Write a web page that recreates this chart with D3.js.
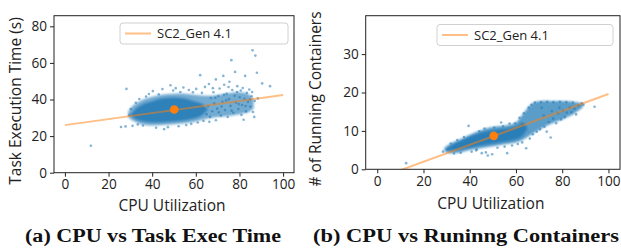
<!DOCTYPE html>
<html>
<head>
<meta charset="utf-8">
<script src="https://cdn.jsdelivr.net/npm/d3@7"></script>
<style>
  body { margin: 0; background: #fff; }
  svg { display: block; }
  .tick text { font-family: "Open Sans", sans-serif; font-size: 13.6px; fill: #222; }
  .lab { font-family: "Open Sans", sans-serif; font-size: 15.5px; fill: #222; }
  .cap { font-family: "Liberation Serif", serif; font-weight: bold; font-size: 18.5px; fill: #111; }
  .leg { font-family: "Open Sans", sans-serif; font-size: 13px; fill: #222; }
</style>
</head>
<body>
<div id="vis"></div>
<script>
// tick labels
const cpuTicks = [0, 20, 40, 60, 80, 100];
const timeTicks = [0, 20, 40, 60, 80];
const contTicks = [0, 10, 20, 30];
const legendLabel = "SC2_Gen 4.1";

// (a) CPU vs task exec time : dense core / halo outlines
const timeCoreCpu = [30, 31, 33, 36, 40, 44, 48, 52, 55, 58, 61, 63, 65.5];
const timeCoreLo  = [31.8, 30.5, 29, 28, 27.5, 27.5, 27.8, 28.2, 28.6, 29.3, 30.3, 31.5, 34.5];
const timeCoreHi  = [31.8, 33, 35.5, 37.5, 39, 40.5, 41, 41, 40.5, 39.5, 38.5, 37.5, 34.5];
const timeHaloCpu = [29, 31, 35, 40, 45, 50, 55, 60, 65, 70, 75, 80, 84, 86.5];
const timeHaloLo  = [30.5, 28.5, 26.5, 25.8, 26, 26.5, 27, 28, 29.5, 30.5, 31, 32, 33, 35];
const timeHaloHi  = [33.5, 36.5, 39.5, 41.5, 42.8, 43.2, 43.2, 42.5, 42, 42.5, 43.5, 44, 43, 40];
const timePoints = [[11.9,14.7],[25.7,25.0],[27.8,25.3],[28.2,45.8],[29.5,31.5],[30.2,34.8],[31.0,25.6],[32.5,38.2],
  [33.4,26.4],[34.1,40.3],[35.8,25.8],[37.2,41.6],[38.5,43.0],[40.3,44.6],[41.8,24.6],[43.0,42.8],[44.7,45.7],
  [45.5,23.8],[47.2,24.9],[48.4,47.8],[49.6,44.9],[50.8,46.2],[52.1,25.4],[52.9,44.1],[54.3,46.6],[55.6,26.0],
  [56.8,45.2],[57.9,26.7],[58.7,44.0],[60.2,45.8],[60.9,27.4],[62.0,53.3],[62.8,43.6],[63.5,28.3],[64.2,46.9],
  [64.9,32.0],[65.6,36.4],[66.2,27.8],[66.0,48.5],[66.9,40.8],[67.5,33.6],[68.1,44.0],[68.4,37.9],[69.2,51.0],
  [69.2,28.7],[69.8,35.0],[70.3,41.9],[70.9,46.0],[71.5,31.2],[72.2,38.8],[72.6,52.9],[73.0,48.1],[73.4,34.2],
  [74.1,43.1],[74.6,30.4],[75.2,40.2],[75.4,49.7],[75.9,36.5],[76.3,61.5],[76.7,45.2],[77.2,32.8],[77.8,42.0],
  [78.0,55.1],[78.4,38.3],[79.0,47.3],[79.5,34.8],[80.1,41.2],[80.6,44.9],[81.2,37.0],[81.9,28.9],[82.3,40.4],
  [82.6,52.9],[83.0,33.5],[83.4,43.6],[83.9,38.7],[84.5,45.5],[85.0,36.1],[85.5,41.8],[86.0,66.9],[86.2,33.2],
  [86.8,30.5],[87.3,64.0],[87.0,39.2],[88.0,54.6],[88.4,40.6],[90.4,48.8],[94.0,47.3],
  [66.5,30.5],[68.9,41.0],[71.8,36.2],[73.9,39.5],[76.4,33.9],[78.9,44.1],[80.9,31.6],[82.8,36.4],[84.8,40.0],
  [70.5,33.0],[75.0,46.8],[79.7,37.5],[67.8,46.2],[72.9,42.6],[81.5,46.3],[85.8,44.1]];
const timeFit = [26.0, 42.5];   // fitted value at cpu 0 and cpu 100
const timeMean = [50.1, 34.5];

// (b) CPU vs running containers
const contCoreCpu = [30, 31, 34, 38, 42, 46, 50, 54, 58, 61, 63, 65];
const contCoreLo  = [5.3, 5.0, 5.0, 5.4, 5.9, 6.3, 6.7, 7.1, 7.5, 8.0, 8.8, 10.6];
const contCoreHi  = [5.3, 5.8, 6.9, 8.0, 9.0, 9.8, 10.2, 10.5, 10.8, 11.4, 12.2, 10.6];
const contHaloCpu = [29, 32, 36, 40, 44, 48, 52, 56, 60, 62, 64, 66, 68, 71, 75, 80, 85, 89];
const contHaloLo  = [4.6, 4.2, 4.4, 5.0, 5.4, 5.8, 6.2, 6.6, 7.0, 7.4, 8.0, 8.8, 9.6, 10.6, 11.8, 13.0, 14.4, 16.2];
const contHaloHi  = [5.6, 6.8, 7.8, 9.0, 10.0, 10.8, 11.2, 11.5, 12.2, 13.6, 15.2, 16.6, 17.5, 17.8, 17.8, 17.8, 17.6, 17.2];
const contPoints = [[12.5,1.6],[28.4,4.6],[30.5,5.2],[31.8,6.7],[33.2,4.1],[34.6,7.6],[36.1,4.3],[37.5,8.4],
  [39.5,11.3],[40.8,4.6],[42.8,4.9],[43.0,5.2],[44.1,9.9],[45.2,4.2],[46.4,10.6],[47.0,4.4],[47.8,3.6],[49.7,3.9],
  [50.6,10.9],[52.0,5.6],[53.6,12.2],[54.4,11.2],[55.1,5.9],[56.2,4.2],[57.2,11.9],[58.3,6.2],[59.6,12.0],
  [60.8,6.6],[61.5,13.4],[62.7,7.0],[63.4,14.6],[64.4,5.5],[65.5,16.1],[66.7,16.8],[66.0,8.0],[67.3,9.1],
  [68.2,17.4],[69.0,9.8],[70.4,10.4],[71.1,16.0],[72.3,11.1],[73.3,9.8],[74.2,12.3],[75.0,8.3],[76.1,13.2],
  [77.4,12.0],[78.2,14.6],[79.5,13.0],[80.3,15.3],[81.1,13.6],[82.0,14.8],[83.2,16.1],[84.0,14.9],[85.3,15.8],
  [86.0,14.3],[87.1,16.6],[88.5,17.2],[89.2,16.8],[94.0,16.3],
  [70.8,17.5],[73.5,17.6],[76.2,17.5],[79.0,17.6],[81.8,17.5],[84.6,17.4],[72.0,14.0],[75.5,15.2],[78.8,16.0]];
const contFit = [-2.44, 19.6];
const contMean = [50.4, 8.7];

const W = 621, H = 250;
const blue = "#1f77b4", orange = "#ff7f0e";

const svg = d3.select("#vis").append("svg").attr("width", W).attr("height", H);

// soft edge for the dense part of the clouds
svg.append("defs").append("filter").attr("id", "soft")
  .attr("x", "-10%").attr("y", "-30%").attr("width", "120%").attr("height", "160%")
  .append("feGaussianBlur").attr("stdDeviation", 1.1);

function drawPanel(p) {
  const x = d3.scaleLinear().domain([-5, 105]).range([p.left, p.right]);
  const y = d3.scaleLinear().domain(p.yDomain).range([p.bottom, p.top]);
  const g = svg.append("g");

  const clipId = "clip-" + p.id;
  g.append("clipPath").attr("id", clipId)
    .append("rect").attr("x", p.left).attr("y", p.top)
    .attr("width", p.right - p.left).attr("height", p.bottom - p.top);

  const plot = g.append("g").attr("clip-path", `url(#${clipId})`);

  const band = (cpu, lo, hi) => cpu.map((c, i) => ({ c: c, lo: lo[i], hi: hi[i] }));
  const area = d3.area().curve(d3.curveCatmullRom)
    .x(d => x(d.c)).y0(d => y(d.lo)).y1(d => y(d.hi));

  const cloud = plot.append("g").attr("filter", "url(#soft)");
  cloud.append("path").datum(band(p.haloCpu, p.haloLo, p.haloHi))
    .attr("d", area).attr("fill", blue).attr("fill-opacity", p.haloOpacity);
  cloud.append("path").datum(band(p.coreCpu, p.coreLo, p.coreHi))
    .attr("d", area).attr("fill", blue).attr("fill-opacity", 0.8);

  plot.selectAll(".pt").data(p.points).enter().append("circle")
    .attr("class", "pt")
    .attr("cx", d => x(d[0])).attr("cy", d => y(d[1]))
    .attr("r", 1.3).attr("fill", blue).attr("fill-opacity", 0.55);

  // regression line, half transparent on top of the points
  plot.append("line")
    .attr("x1", x(0)).attr("y1", y(p.fit[0]))
    .attr("x2", x(100)).attr("y2", y(p.fit[1]))
    .attr("stroke", orange).attr("stroke-opacity", 0.5).attr("stroke-width", 2);

  plot.append("circle")
    .attr("cx", x(p.mean[0])).attr("cy", y(p.mean[1]))
    .attr("r", 4.3).attr("fill", orange);

  // axes
  g.append("g").attr("transform", `translate(0,${p.bottom})`)
    .call(d3.axisBottom(x).tickValues(cpuTicks).tickSize(4).tickPadding(3));
  g.append("g").attr("transform", `translate(${p.left},0)`)
    .call(d3.axisLeft(y).tickValues(p.yTicks).tickSize(4).tickPadding(3));
  g.selectAll(".domain").remove();
  g.selectAll(".tick line").attr("stroke", "#222");

  g.append("rect")
    .attr("x", p.left).attr("y", p.top)
    .attr("width", p.right - p.left).attr("height", p.bottom - p.top)
    .attr("fill", "none").attr("stroke", "#222").attr("stroke-width", 1);

  // legend
  const lg = g.append("g").attr("transform", `translate(${p.legX},${p.legY})`);
  lg.append("rect").attr("width", p.legW).attr("height", 21).attr("rx", 3)
    .attr("fill", "#fff").attr("stroke", "#d0d0d0");
  lg.append("line").attr("x1", 5).attr("x2", 31).attr("y1", 10.5).attr("y2", 10.5)
    .attr("stroke", orange).attr("stroke-opacity", 0.5).attr("stroke-width", 2);
  lg.append("text").attr("class", "leg").attr("x", 37).attr("y", 15).text(legendLabel);

  // labels
  g.append("text").attr("class", "lab").attr("text-anchor", "middle")
    .attr("x", (x(0) + x(100)) / 2 - 2).attr("y", p.xLabY).text("CPU Utilization");
  g.append("text").attr("class", "lab").attr("text-anchor", "middle")
    .attr("transform", `translate(${p.yLabX},${p.yLabY}) rotate(-90)`).text(p.yLabel);
  g.append("text").attr("class", "cap").attr("text-anchor", "middle")
    .attr("x", p.capX).attr("y", 242)
    .attr("textLength", p.capW).attr("lengthAdjust", "spacingAndGlyphs")
    .text(p.caption);
}

drawPanel({
  id: "a", left: 54, right: 294, top: 15.7, bottom: 172.7, yDomain: [0, 85.8], yTicks: timeTicks,
  coreCpu: timeCoreCpu, coreLo: timeCoreLo, coreHi: timeCoreHi,
  haloCpu: timeHaloCpu, haloLo: timeHaloLo, haloHi: timeHaloHi, haloOpacity: 0.62,
  points: timePoints, fit: timeFit, mean: timeMean,
  legX: 120, legY: 23, legW: 168,
  xLabY: 211, yLabX: 20.5, yLabY: 101, yLabel: "Task Execution Time (s)",
  capX: 153, capW: 256, caption: "(a) CPU vs Task Exec Time"
});

drawPanel({
  id: "b", left: 365.7, right: 620, top: 15.7, bottom: 169.3, yDomain: [0, 40], yTicks: contTicks,
  coreCpu: contCoreCpu, coreLo: contCoreLo, coreHi: contCoreHi,
  haloCpu: contHaloCpu, haloLo: contHaloLo, haloHi: contHaloHi, haloOpacity: 0.72,
  points: contPoints, fit: contFit, mean: contMean,
  legX: 437, legY: 24.5, legW: 176,
  xLabY: 209, yLabX: 320.5, yLabY: 99, yLabel: "# of Running Containers",
  capX: 466, capW: 306, caption: "(b) CPU vs Runinng Containers"
});
</script>
</body>
</html>
